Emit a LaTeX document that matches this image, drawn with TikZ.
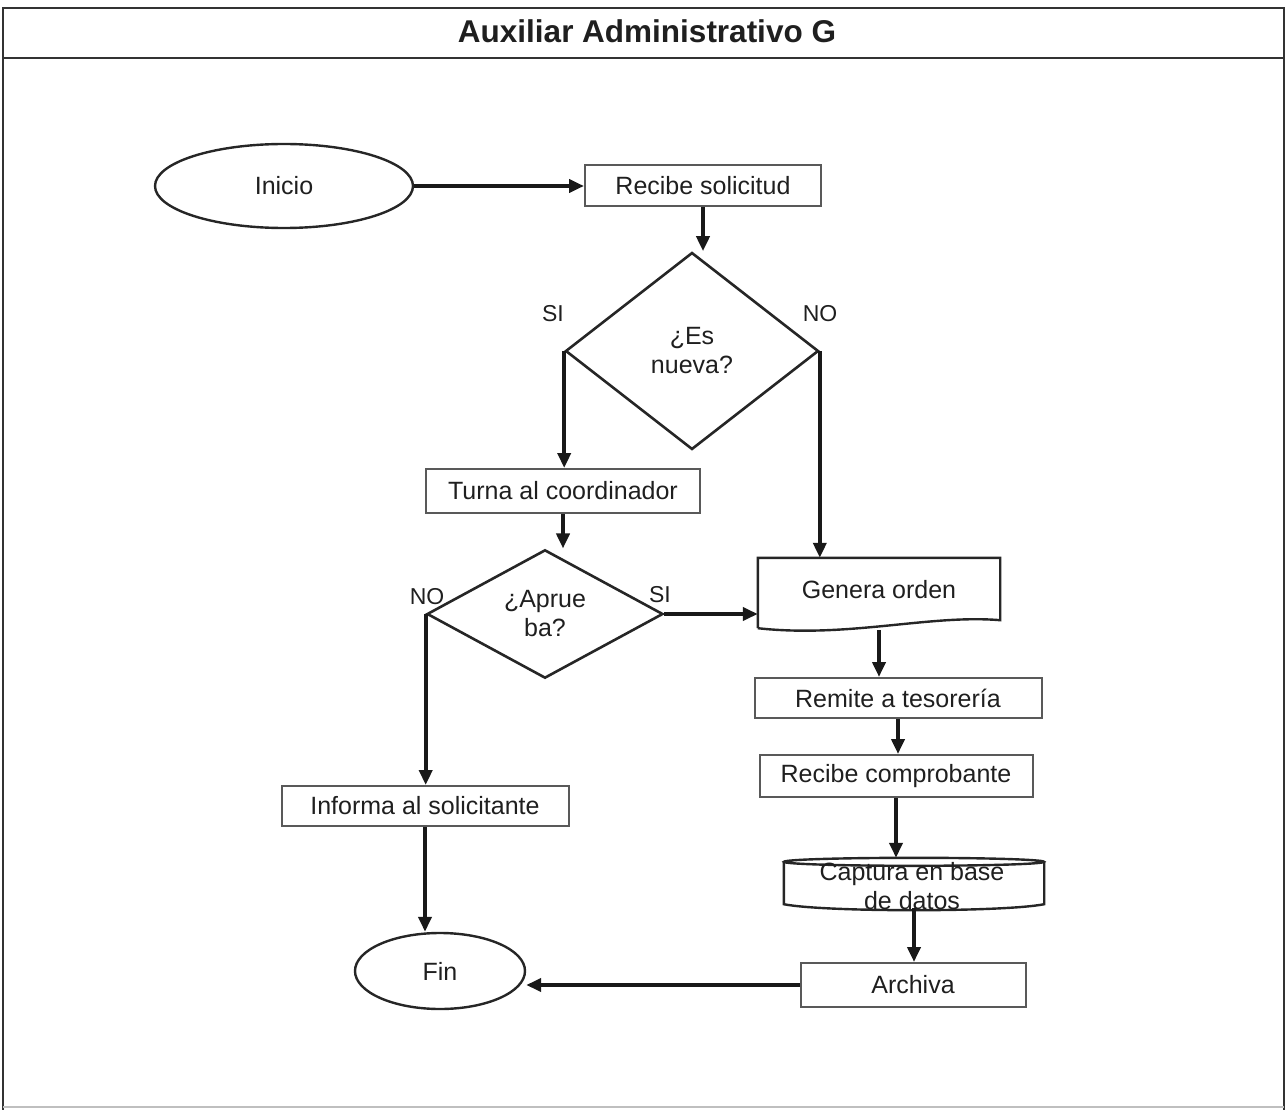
\documentclass[tikz,border=0pt]{standalone}
\usepackage{fontspec}
\setmainfont{Liberation Sans}
\usetikzlibrary{shapes.geometric,arrows.meta,calc}
\begin{document}
\begin{tikzpicture}[x=1pt,y=-1pt,
  every node/.style={font=\fontsize{25}{29}\selectfont, text=black!88},
  procbox/.style={rectangle, draw=black!65, line width=2pt, inner sep=0pt},
  terminal/.style={ellipse, draw=black!85, line width=2.4pt, inner sep=0pt},
  decision/.style={diamond, draw=black!85, line width=2.6pt, inner sep=0pt, align=center},
  hidden/.style={rectangle, inner sep=0pt},
  branch/.style={font=\fontsize{23}{27}\selectfont},
  shapeline/.style={line width=2.4pt, black!85},
  flow/.style={line width=3.8pt, black!90, -{Triangle[length=15pt,width=13pt]}},
]
\useasboundingbox (0,0) rectangle (1288,1110);

% frame and header
\draw[line width=2.2pt, black!80] (3,1110) -- (3,8) -- (1284,8) -- (1284,1110);
\draw[line width=1.2pt, black!25] (3,1107) -- (1284,1107);
\draw[line width=2.2pt, black!80] (3,58) -- (1284,58);
\node[font=\fontsize{31.5}{34}\selectfont\bfseries] (title) at (647,31) {Auxiliar Administrativo G};

% nodes
\node[terminal, minimum width=258pt, minimum height=84pt] (inicio) at (284,186) {Inicio};
\node[procbox, minimum width=236pt, minimum height=41pt] (recibe) at (703,186) {Recibe solicitud};
\node[decision, minimum width=253pt, minimum height=197pt] (nueva) at (692,351) {¿Es\\nueva?};
\node[procbox, minimum width=274pt, minimum height=44pt] (turna) at (563,491) {Turna al coordinador};
\node[decision, minimum width=236pt, minimum height=125pt] (aprueba) at (545,614) {¿Aprue\\ba?};
\node[hidden, minimum width=242pt, minimum height=64pt] (genera) at (879,590) {Genera orden};
\node[procbox, minimum width=287pt, minimum height=40pt] (remite) at (898,698) {Remite a tesorería};
\node[procbox, minimum width=273pt, minimum height=42pt] (comprob) at (896,776) {Recibe comprobante};
\node[hidden, minimum width=260pt, minimum height=50pt] (captura) at (914,883) {};
\node[procbox, minimum width=225pt, minimum height=44pt] (archiva) at (913,985) {Archiva};
\node[procbox, minimum width=287pt, minimum height=40pt] (informa) at (425,806) {Informa al solicitante};
\node[terminal, minimum width=170pt, minimum height=76pt] (fin) at (440,971) {Fin};

% document symbol with wavy lower edge
\draw[shapeline]
  ($(genera.south west)+(0,6)$) -- (genera.north west) -- (genera.north east)
  -- ($(genera.south east)+(0,-2)$)
  .. controls ($(genera.south east)+(-70,-8)$) and ($(genera.south west)+(90,16)$) ..
  ($(genera.south west)+(0,6)$);

% stored data drum
\draw[shapeline]
  ($(captura.north west)+(0,4)$) -- ($(captura.south west)+(0,-4)$)
  .. controls ($(captura.south west)+(40,4)$) and ($(captura.south east)+(-40,4)$) ..
  ($(captura.south east)+(0,-4)$) -- ($(captura.north east)+(0,4)$);
\draw[shapeline] ($(captura.north)+(0,4)$) ellipse [x radius=130pt, y radius=4pt];
\node[align=center, font=\fontsize{25}{29}\selectfont] (capturatext) at (912,886) {Captura en base\\de datos};

% branch labels
\node[branch] (si1) at (553,314) {SI};
\node[branch] (no1) at (820,314) {NO};
\node[branch] (no2) at (427,597) {NO};
\node[branch] (si2) at (660,595) {SI};

% connectors
\draw[flow] (inicio.east) -- (recibe.west);
\draw[flow] (recibe.south) -- (recibe.south |- nueva.north);
\draw[flow] (nueva.west) -- (nueva.west |- turna.north);
\draw[flow] (nueva.east) -- (nueva.east |- genera.north);
\draw[flow] (turna.south) -- (turna.south |- aprueba.north);
\draw[flow] (aprueba.east) -- (aprueba.east -| genera.west);
\draw[flow] (aprueba.west) -- (aprueba.west |- informa.north);
\draw[flow] (informa.south) -- (informa.south |- fin.north);
\draw[flow] ($(genera.south)+(0,8)$) -- (genera.south |- remite.north);
\draw[flow] (remite.south) -- (remite.south |- comprob.north);
\draw[flow] (comprob.south) -- (comprob.south |- captura.north);
\draw[flow] (captura.south) -- (captura.south |- archiva.north);
\draw[flow] (archiva.west) -- (archiva.west -| fin.east);
\end{tikzpicture}
\end{document}
